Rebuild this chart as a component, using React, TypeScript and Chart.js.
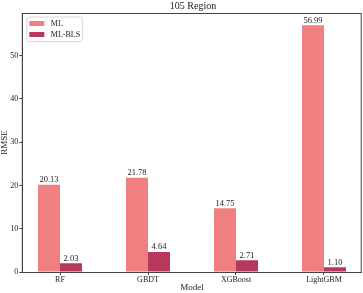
import React, { useEffect, useRef } from "react";
import { Chart, registerables } from "chart.js";

Chart.register(...registerables);

const categories: string[] = ["RF", "GBDT", "XGBoost", "LightGBM"];
const mlValues: number[] = [20.13, 21.78, 14.75, 56.99];
const blsValues: number[] = [2.03, 4.64, 2.71, 1.1];
const seriesNames: string[] = ["ML", "ML-BLS"];
const seriesColors: string[] = ["#F08080", "#B7385C"];
const yTicks: number[] = [0, 10, 20, 30, 40, 50];
const titleText = "105 Region";
const xTitle = "Model";
const yTitle = "RMSE";

const FONT = "'Liberation Serif', 'Times New Roman', serif";
const TEXT = "#222";

export default function App() {
  const ref = useRef<HTMLCanvasElement | null>(null);

  useEffect(() => {
    document.body.style.margin = "0";
    const canvas = ref.current;
    if (!canvas) return;

    const framePlugin = {
      id: "framePlugin",
      afterDatasetsDraw(chart: any) {
        const { ctx, chartArea } = chart;
        // data labels
        ctx.save();
        ctx.fillStyle = TEXT;
        ctx.font = `8.5px ${FONT}`;
        ctx.textAlign = "center";
        ctx.textBaseline = "bottom";
        chart.data.datasets.forEach((ds: any, di: number) => {
          const meta = chart.getDatasetMeta(di);
          meta.data.forEach((el: any, i: number) => {
            const v = ds.data[i].y as number;
            ctx.fillText(v.toFixed(2), el.x, el.y - 0.5);
          });
        });
        ctx.restore();
      },
      afterDraw(chart: any) {
        const { ctx, chartArea } = chart;
        ctx.save();
        // frame
        ctx.strokeStyle = "#444";
        ctx.lineWidth = 1;
        ctx.strokeRect(
          chartArea.left,
          chartArea.top + 0.5,
          chartArea.right - chartArea.left - 0.5,
          chartArea.bottom - chartArea.top
        );
        // title
        ctx.fillStyle = TEXT;
        ctx.font = `10px ${FONT}`;
        ctx.textAlign = "center";
        ctx.textBaseline = "middle";
        ctx.fillText(titleText, (chartArea.left + chartArea.right) / 2 + 1, 6.5);
        // legend
        const lx = chartArea.left + 4;
        const ly = chartArea.top + 3.5;
        const lw = 55.5;
        const lh = 24.5;
        ctx.fillStyle = "rgba(255,255,255,0.8)";
        ctx.strokeStyle = "#d8d8d8";
        ctx.lineWidth = 1;
        ctx.beginPath();
        (ctx as any).roundRect(lx + 0.5, ly + 0.5, lw, lh, 2);
        ctx.fill();
        ctx.stroke();
        ctx.font = `8px ${FONT}`;
        ctx.textAlign = "left";
        ctx.textBaseline = "middle";
        seriesNames.forEach((name, i) => {
          const cy = ly + 7 + i * 11;
          ctx.fillStyle = seriesColors[i];
          ctx.fillRect(lx + 3, cy - 2.5, 15, 5);
          ctx.fillStyle = TEXT;
          ctx.fillText(name, lx + 24.5, cy + 0.3);
        });
        ctx.restore();
      },
    };

    const chart = new Chart(canvas, {
      type: "bar",
      data: {
        datasets: [
          {
            label: seriesNames[0],
            data: mlValues.map((v, i) => ({ x: i, y: v })),
            backgroundColor: seriesColors[0],
            borderWidth: 0,
          },
          {
            label: seriesNames[1],
            data: blsValues.map((v, i) => ({ x: i, y: v })),
            backgroundColor: seriesColors[1],
            borderWidth: 0,
          },
        ],
      },
      options: {
        animation: false,
        responsive: false,
        devicePixelRatio: 1,
        layout: { padding: { top: 13, right: 1.3, left: 0, bottom: 0 } },
        datasets: { bar: { categoryPercentage: 0.5, barPercentage: 1 } },
        plugins: { legend: { display: false }, tooltip: { enabled: false }, title: { display: false } },
        scales: {
          x: {
            type: "linear",
            offset: false,
            min: -0.4286,
            max: 3.4286,
            afterBuildTicks: (scale: any) => {
              scale.ticks = categories.map((_, i) => ({ value: i }));
            },
            afterFit: (scale: any) => {
              scale.height = 21;
            },
            grid: {
              display: true,
              drawOnChartArea: false,
              drawTicks: true,
              tickLength: 3,
              tickColor: "#444",
              offset: false,
            },
            border: { display: true, color: "#444", width: 1 },
            ticks: {
              padding: 0,
              color: TEXT,
              font: { family: FONT, size: 8 },
              maxRotation: 0,
              autoSkip: false,
              callback: (v: any) => categories[Math.round(Number(v))] ?? "",
            },
            title: {
              display: true,
              text: xTitle,
              color: TEXT,
              font: { family: FONT, size: 9, lineHeight: 1.1 },
              padding: 0,
            },
          },
          y: {
            type: "linear",
            min: 0,
            max: 59.84,
            afterBuildTicks: (scale: any) => {
              scale.ticks = yTicks.map((v) => ({ value: v }));
            },
            afterFit: (scale: any) => {
              scale.width = 22.3;
            },
            grid: {
              display: true,
              drawOnChartArea: false,
              drawTicks: true,
              tickLength: 3,
              tickColor: "#444",
            },
            border: { display: true, color: "#444", width: 1 },
            ticks: {
              padding: 1,
              color: TEXT,
              font: { family: FONT, size: 8 },
            },
            title: {
              display: true,
              text: yTitle,
              color: TEXT,
              font: { family: FONT, size: 9, lineHeight: 1.1 },
              padding: 0,
            },
          },
        },
      },
      plugins: [framePlugin],
    } as any);

    return () => chart.destroy();
  }, []);

  return (
    <canvas
      ref={ref}
      width={363}
      height={293}
      style={{ display: "block", width: 363, height: 293 }}
    />
  );
}
